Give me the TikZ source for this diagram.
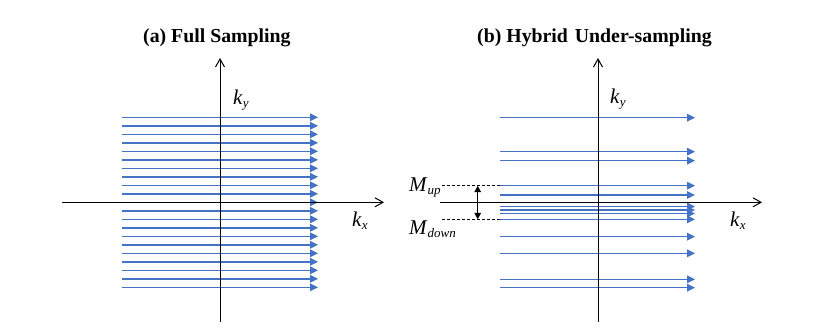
\documentclass[tikz,border=0pt]{standalone}
\usepackage{fontspec}
\setmainfont{Liberation Serif}
\usetikzlibrary{arrows.meta}
\definecolor{lineblue}{RGB}{68,114,196}
\newcommand{\lowsub}[1]{\raisebox{-0.35ex}{\fontsize{13}{15}\selectfont\itshape #1}}
\begin{document}
\begin{tikzpicture}[x=1pt,y=-1pt,
  axis/.style={draw=black,line width=1pt,-{Straight Barb[length=8pt,width=9pt,line width=1pt]}},
  sampline/.style={draw=lineblue,line width=1.5pt,-{Triangle[length=8pt,width=7.5pt]}},
  lbl/.style={inner sep=0pt,anchor=base west,font=\fontsize{21}{25}\selectfont},
  ttl/.style={inner sep=0pt,anchor=base west,font=\fontsize{19.8}{23}\selectfont\bfseries},
  dashline/.style={draw=black,line width=0.9pt,dash pattern=on 3pt off 2pt},
  dblarrow/.style={draw=black,line width=1.4pt,{Triangle[length=6.5pt,width=6.5pt]}-{Triangle[length=6.5pt,width=6.5pt]}}]
\useasboundingbox (0,0) rectangle (835,330);
% titles
\node[ttl] (ta) at (143,42.3) {(a) Full Sampling};
\node[ttl] (tb) at (477,42.3) {(b) Hybrid\hspace{0.1em} Under-sampling};
% ---------- panel (a)
\foreach \y [count=\i] in {117.3,125.8,134.3,142.8,151.3,159.8,168.3,176.8,185.3,193.8,202.3,210.8,219.3,227.8,236.3,244.8,253.3,261.8,270.3,278.8,287.3}{
  \coordinate (as\i) at (122,\y);
  \coordinate (ae\i) at (318,\y);
  \draw[sampline] (as\i) -- (ae\i);
}
\coordinate (axl) at (62,202.3);
\coordinate (axr) at (384,202.3);
\coordinate (ayb) at (220,322);
\coordinate (ayt) at (220,58);
\draw[axis] (axl) -- (axr);
\draw[axis] (ayb) -- (ayt);
\node[lbl] (aky) at (233,104) {\textit{k}\lowsub{y}};
\node[lbl] (akx) at (352,226.5) {\textit{k}\lowsub{x}};
% ---------- panel (b)
\foreach \y [count=\i] in {117.7,151.7,160.7,185.7,195,206.5,210,213.5,219.3,236.7,253.3,279.3,287.7}{
  \coordinate (bs\i) at (500,\y);
  \coordinate (be\i) at (695,\y);
  \draw[sampline] (bs\i) -- (be\i);
}
\coordinate (bxl) at (440,202.3);
\coordinate (bxr) at (762,202.3);
\coordinate (byb) at (598,322);
\coordinate (byt) at (598,58);
\draw[axis] (bxl) -- (bxr);
\draw[axis] (byb) -- (byt);
\node[lbl] (bky) at (610,103) {\textit{k}\lowsub{y}};
\node[lbl] (bkx) at (730,226.5) {\textit{k}\lowsub{x}};
% M labels
\node[lbl] (mup) at (409,191.5) {\textit{M}\lowsub{up}};
\node[lbl] (mdown) at (409,234.5) {\textit{M}\lowsub{down}};
\coordinate (dus) at (442,185.7);
\coordinate (due) at (500,185.7);
\coordinate (dds) at (442,219.3);
\coordinate (dde) at (500,219.3);
\draw[dashline] (dus) -- (due);
\draw[dashline] (dds) -- (dde);
\coordinate (mau) at (477.7,185.7);
\coordinate (mad) at (477.7,219.3);
\draw[dblarrow] (mau) -- (mad);
\end{tikzpicture}
\end{document}
